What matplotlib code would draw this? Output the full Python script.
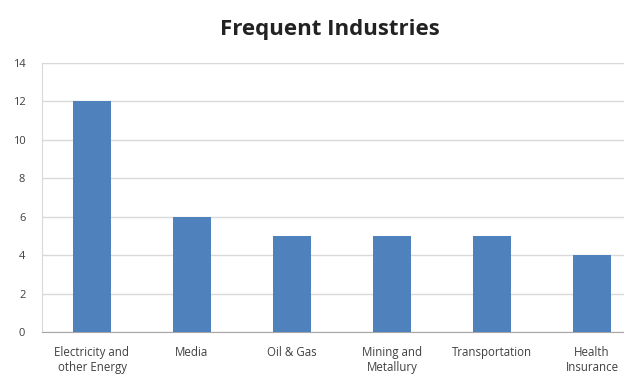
import matplotlib
matplotlib.use('Agg')
import matplotlib.pyplot as plt

industries = ['Electricity and\nother Energy', 'Media', 'Oil & Gas',
              'Mining and\nMetallury', 'Transportation', 'Health\nInsurance']
counts = [12, 6, 5, 5, 5, 4]
yticks = [0, 2, 4, 6, 8, 10, 12, 14]

plt.rcParams['font.family'] = ['Open Sans', 'DejaVu Sans']

fig = plt.figure(figsize=(6.24, 3.76), dpi=100)
ax = fig.add_axes([42 / 624, 1 - 332 / 376, 600 / 624, (332 - 63) / 376])

x = range(len(industries))
ax.bar(x, counts, width=0.38, color='#4F81BD', zorder=3)

ax.set_xlim(-0.5, len(industries) - 0.5)
ax.set_ylim(0, 14)
ax.set_yticks(yticks)
ax.set_xticks(list(x))
ax.set_xticklabels(industries, fontsize=8.3, color='#404040', linespacing=1.25)
ax.tick_params(axis='y', labelsize=8, labelcolor='#404040', length=0, pad=12)
ax.tick_params(axis='x', length=0, pad=10)
ax.grid(axis='y', color='#D9D9D9', linewidth=1, zorder=0)
for s in ax.spines.values():
    s.set_color('#D9D9D9')
ax.spines['bottom'].set_color('#A6A6A6')

fig.text(330 / 624, 1 - 30 / 376, 'Frequent Industries', ha='center', va='center',
         fontsize=16, fontweight='bold', color='#222222')

fig.savefig('out.png', dpi=100)
